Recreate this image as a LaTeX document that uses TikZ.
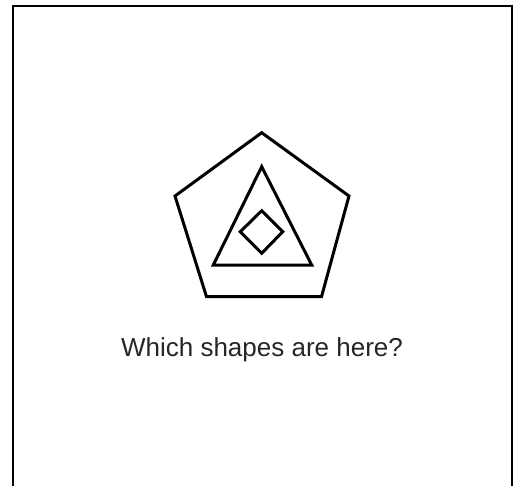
\documentclass[tikz,border=0pt]{standalone}
\usepackage{fontspec}
\setmainfont{Liberation Sans}
\begin{document}
\begin{tikzpicture}[x=1pt,y=-1pt,
  shapeline/.style={draw=black,line width=3pt,line join=miter},
  frameline/.style={draw=black,line width=2pt},
  caption/.style={font=\fontsize{26}{30}\selectfont,text=black!85,anchor=base,inner sep=0pt}]
\useasboundingbox (0,0) rectangle (517,485);
\draw[frameline] (13,490) -- (13,6) -- (512,6) -- (512,490);
% pentagon
\coordinate (p1) at (261.7,132.7);
\coordinate (p2) at (349,196);
\coordinate (p3) at (321.5,296.7);
\coordinate (p4) at (206.5,296.7);
\coordinate (p5) at (175,196);
\draw[shapeline] (p1) -- (p2) -- (p3) -- (p4) -- (p5) -- cycle;
% triangle
\coordinate (t1) at (261.7,166.7);
\coordinate (t2) at (311.7,265);
\coordinate (t3) at (213.3,265);
\draw[shapeline] (t1) -- (t2) -- (t3) -- cycle;
% diamond
\coordinate (d1) at (261.7,210.7);
\coordinate (d2) at (282.7,231.7);
\coordinate (d3) at (261.7,253.3);
\coordinate (d4) at (240.3,231.7);
\draw[shapeline] (d1) -- (d2) -- (d3) -- (d4) -- cycle;
\node[caption] (q) at (262,356) {Which shapes are here?};
\end{tikzpicture}
\end{document}
